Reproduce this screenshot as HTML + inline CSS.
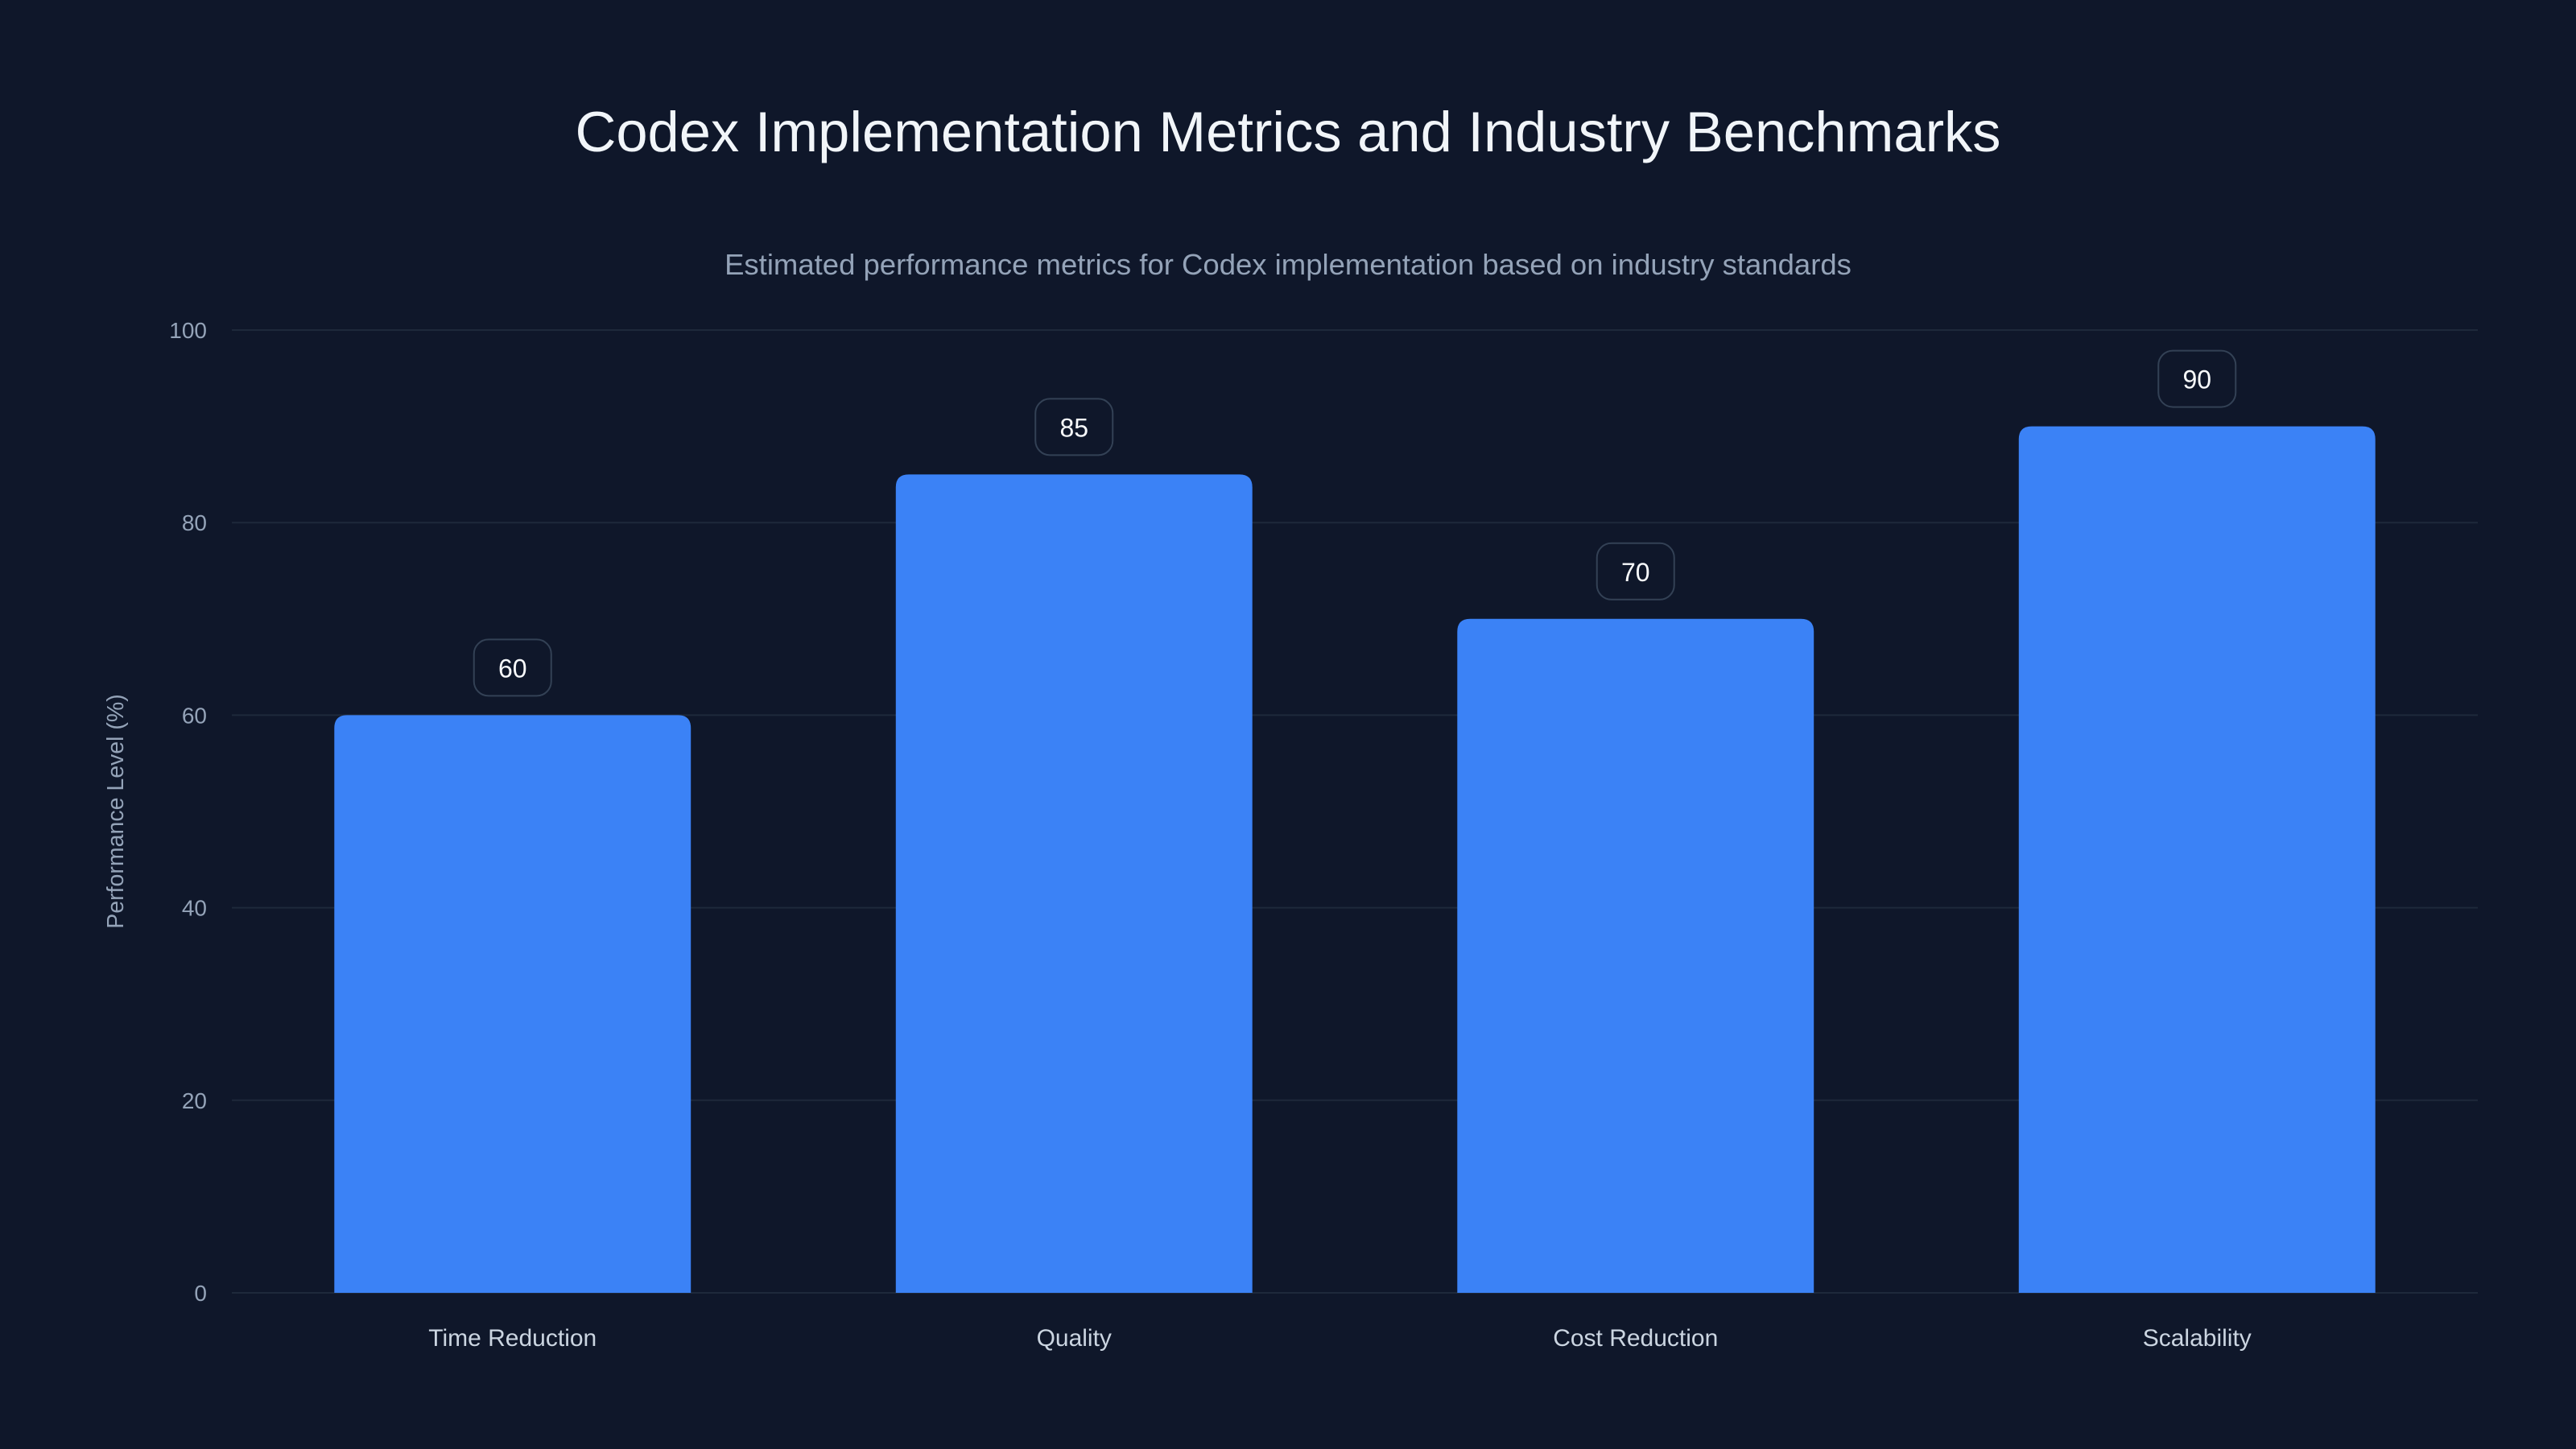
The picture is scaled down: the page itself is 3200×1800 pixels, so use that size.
<!DOCTYPE html>
<html><head><meta charset="utf-8"><style>
html,body{margin:0;padding:0;background:#0f172a;}
svg{display:block;font-family:"Liberation Sans",sans-serif;}
</style></head><body>
<svg id="chart" width="3200" height="1800" viewBox="0 0 3200 1800" xmlns="http://www.w3.org/2000/svg">
<rect width="3200" height="1800" fill="#0f172a"/>
<text x="1600" y="188" text-anchor="middle" font-size="70.5" fill="#f1f5f9">Codex Implementation Metrics and Industry Benchmarks</text>
<text x="1600" y="341" text-anchor="middle" font-size="36.5" fill="#94a3b8">Estimated performance metrics for Codex implementation based on industry standards</text>
<text transform="translate(153,1008) rotate(-90)" text-anchor="middle" font-size="28.5" fill="#94a3b8">Performance Level (%)</text>
<g id="grid"></g><g id="bars"></g><g id="labels"></g>
</svg>
<script>
const categories = ["Time Reduction","Quality","Cost Reduction","Scalability"];
const values = [60,85,70,90];
const yTicks = [0,20,40,60,80,100];

const NS="http://www.w3.org/2000/svg";
const x0=288,x1=3078,yBottom=1606,yTop=410,yMax=100;
const band=(x1-x0)/categories.length, barW=band*0.635;
const y=v=>yBottom-(v/yMax)*(yBottom-yTop);
const xc=i=>x0+band*(i+0.5);
function mk(tag,attrs,parent){const e=document.createElementNS(NS,tag);for(const k in attrs)e.setAttribute(k,attrs[k]);parent.appendChild(e);return e;}
const grid=document.getElementById('grid'),bars=document.getElementById('bars'),labels=document.getElementById('labels');
yTicks.forEach(t=>{
  const l=mk('line',{x1:x0,x2:x1,y1:y(t),y2:y(t),stroke:'#1e293b','stroke-width':2},grid);
  
  
  const tx=mk('text',{x:257,y:y(t)+10,'text-anchor':'end','font-size':28,fill:'#94a3b8'},grid);
  tx.textContent=t;
  
  
});
categories.forEach((c,i)=>{
  const v=values[i],bx=xc(i)-barW/2,by=y(v),r=16;
  const p=mk('path',{d:`M${bx},${yBottom}V${by+r}Q${bx},${by} ${bx+r},${by}H${bx+barW-r}Q${bx+barW},${by} ${bx+barW},${by+r}V${yBottom}Z`,fill:'#3b82f6'},bars);
  
  
  const bw=96,bh=70,boxY=by-24-bh;
  const box=mk('rect',{x:xc(i)-bw/2,y:boxY,width:bw,height:bh,rx:18,fill:'#0f172a',stroke:'#334155','stroke-width':2},labels);
  
  
  const vt=mk('text',{x:xc(i),y:boxY+bh/2+12,'text-anchor':'middle','font-size':32,fill:'#f8fafc'},labels);
  vt.textContent=v;
  
  
  const ct=mk('text',{x:xc(i),y:1672,'text-anchor':'middle','font-size':30,fill:'#cbd5e1'},labels);
  ct.textContent=c;
  
  
});
</script>
</body></html>
